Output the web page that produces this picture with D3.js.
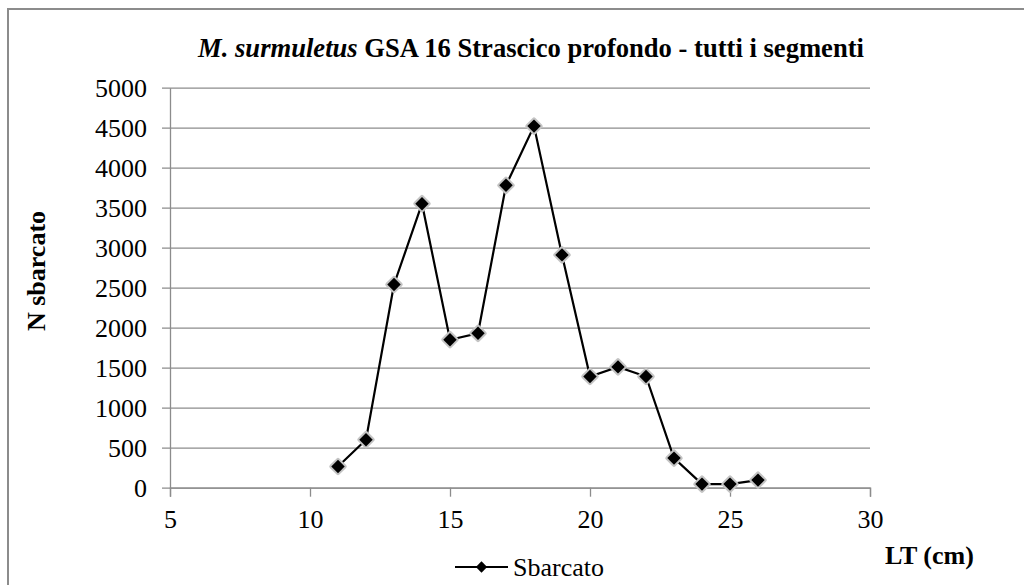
<!DOCTYPE html>
<html>
<head>
<meta charset="utf-8">
<script src="https://cdn.jsdelivr.net/npm/d3@7"></script>
<style>
  body { margin: 0; background: #fff; }
  svg text { font-family: 'Liberation Serif', 'DejaVu Serif', serif !important; fill: #000; }
</style>
</head>
<body>
<div id="chart"></div>
<script>
// data
var lengths = [11, 12, 13, 14, 15, 16, 17, 18, 19, 20, 21, 22, 23, 24, 25, 26];
var landed  = [265, 600, 2540, 3550, 1850, 1930, 3780, 4520, 2910, 1390, 1510, 1390, 370, 45, 45, 95];
var xTicks = [5, 10, 15, 20, 25, 30];
var yTicks = [0, 500, 1000, 1500, 2000, 2500, 3000, 3500, 4000, 4500, 5000];
var seriesName = "Sbarcato";

var W = 1024, H = 585;
var margin = {top: 87.7, left: 170},
    width = 700,
    height = 400;

var serif = "'Liberation Serif', 'DejaVu Serif', serif";

var root = d3.select("#chart").append("svg")
    .attr("width", W)
    .attr("height", H);

// outer frame
root.append("rect")
    .attr("x", 8).attr("y", 9)
    .attr("width", 1040).attr("height", 620)
    .attr("fill", "none")
    .attr("stroke", "#8c8c8c")
    .attr("stroke-width", 2);

var svg = root.append("g")
    .attr("transform", "translate(" + margin.left + "," + margin.top + ")");

var x = d3.scaleLinear().domain([5, 30]).range([0, width]);
var y = d3.scaleLinear().domain([0, 5000]).range([height, 0]);

// grid lines (start 8px left of axis, like tick marks)
svg.append("g")
    .attr("transform", "translate(-8,0)")
    .call(d3.axisLeft(y).tickValues(yTicks).tickSize(-(width + 8)).tickFormat(""))
    .call(function(g) {
      g.select(".domain").remove();
      g.selectAll("line").attr("stroke", "#8c8c8c").attr("stroke-width", 1.3);
    });

// y labels
svg.append("g")
    .call(d3.axisLeft(y).tickValues(yTicks).tickSize(0).tickPadding(23).tickFormat(d3.format("d")))
    .attr("font-family", serif)
    .attr("font-size", 26)
    .call(function(g) {
      g.select(".domain").attr("stroke", "#8c8c8c").attr("stroke-width", 1.3);
      g.selectAll("text").attr("dy", "0.34em");
    });

// x axis
svg.append("g")
    .attr("transform", "translate(0," + height + ")")
    .call(d3.axisBottom(x).tickValues(xTicks).tickSize(9).tickFormat(d3.format("d")))
    .attr("font-family", serif)
    .attr("font-size", 26)
    .call(function(g) {
      g.select(".domain").attr("stroke", "#8c8c8c").attr("stroke-width", 1.3);
      g.selectAll("line").attr("stroke", "#8c8c8c").attr("stroke-width", 1.3);
      g.selectAll("text").attr("y", 40).attr("dy", 0);
    });

var data = lengths.map(function(d, i) { return {lt: d, n: landed[i]}; });

var line = d3.line()
    .x(function(d) { return x(d.lt); })
    .y(function(d) { return y(d.n); });

svg.append("path")
    .datum(data)
    .attr("d", line)
    .attr("fill", "none")
    .attr("stroke", "#000")
    .attr("stroke-width", 2.2);

var diamond = d3.symbol().type(d3.symbolSquare).size(90);

// halo then marker
svg.append("g").selectAll("path")
    .data(data)
    .enter()
    .append("path")
      .attr("d", diamond)
      .attr("transform", function(d) { return "translate(" + x(d.lt) + "," + y(d.n) + ") rotate(45)"; })
      .attr("fill", "#000")
      .attr("stroke", "#c4c4c4")
      .attr("stroke-width", 4)
      .attr("stroke-linejoin", "round");
svg.append("g").selectAll("path")
    .data(data)
    .enter()
    .append("path")
      .attr("d", diamond)
      .attr("transform", function(d) { return "translate(" + x(d.lt) + "," + y(d.n) + ") rotate(45)"; })
      .attr("fill", "#000");

// title
var title = root.append("text")
    .attr("x", 531)
    .attr("y", 57)
    .attr("text-anchor", "middle")
    .attr("font-family", serif)
    .style("font-size", "26.6px")
    .style("font-weight", "bold");
title.append("tspan").style("font-style", "italic").text("M. surmuletus");
title.append("tspan").text(" GSA 16 Strascico profondo - tutti i segmenti");

// y axis title
root.append("text")
    .attr("transform", "translate(45,271) rotate(-90)")
    .attr("text-anchor", "middle")
    .attr("font-family", serif)
    .style("font-size", "26px")
    .style("font-weight", "bold")
    .text("N sbarcato");

// x axis title
root.append("text")
    .attr("x", 885)
    .attr("y", 564)
    .attr("font-family", serif)
    .style("font-size", "26px")
    .style("font-weight", "bold")
    .text("LT (cm)");

// legend
var legend = root.append("g");
legend.append("line")
    .attr("x1", 455).attr("x2", 508)
    .attr("y1", 567).attr("y2", 567)
    .attr("stroke", "#000")
    .attr("stroke-width", 2.2);
legend.append("path")
    .attr("d", d3.symbol().type(d3.symbolSquare).size(64))
    .attr("transform", "translate(481.5,567) rotate(45)")
    .attr("fill", "#000");
legend.append("text")
    .attr("x", 513)
    .attr("y", 576)
    .attr("font-family", serif)
    .style("font-size", "26px")
    .text(seriesName);
</script>
</body>
</html>
